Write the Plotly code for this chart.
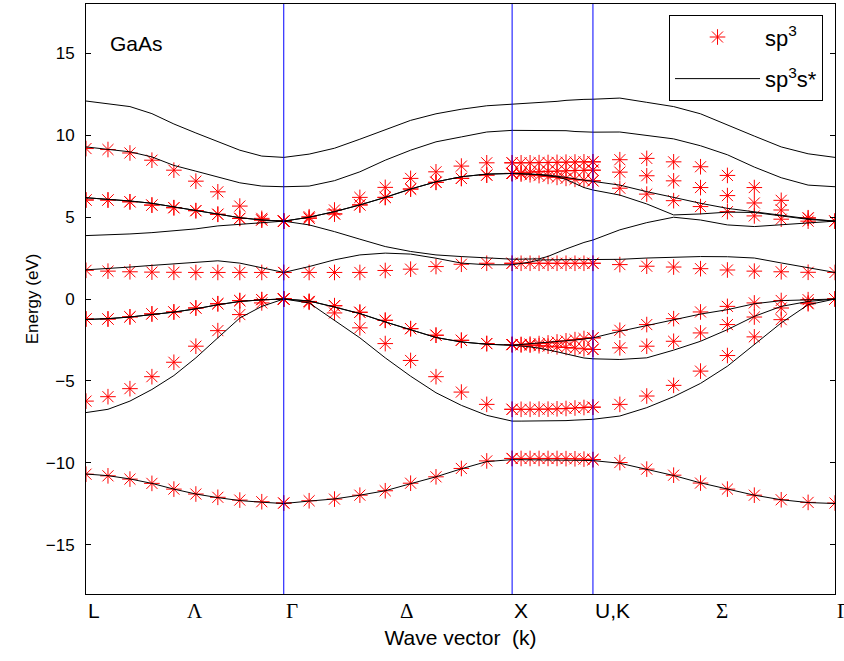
import numpy as np
import plotly.graph_objects as go

# ---------------- data ----------------
sym_k = [0.0, 0.866, 1.866, 2.220, 3.280]          # L, Γ, X, U/K, Γ  (2π/a)
pts_per_segment = 10

tick_labels = ["L", "Λ", "Γ", "Δ", "X", "U,K", "Σ", "Γ"]
greek = {"Λ", "Γ", "Δ", "Σ"}

# sp3 model (markers) – 8 bands, 10 points per segment: L-Γ, Γ-X, X-U, K-Γ
sp3_b1 = [-10.69, -10.79, -10.99, -11.25, -11.60, -11.90, -12.10, -12.27, -12.37, -12.45,
          -12.45, -12.31, -12.21, -11.97, -11.70, -11.24, -10.85, -10.34, -9.88, -9.73,
          -9.73, -9.73, -9.73, -9.73, -9.73, -9.73, -9.74, -9.75, -9.77, -9.80,
          -9.80, -9.98, -10.38, -10.75, -11.23, -11.60, -11.97, -12.25, -12.41, -12.45]
sp3_b2 = [-6.23, -5.96, -5.47, -4.74, -3.86, -2.88, -1.93, -0.95, -0.24, 0.00,
          0.00, -0.20, -0.85, -1.76, -2.72, -3.75, -4.74, -5.68, -6.43, -6.73,
          -6.73, -6.73, -6.73, -6.72, -6.72, -6.70, -6.68, -6.65, -6.62, -6.60,
          -6.60, -6.43, -5.92, -5.27, -4.40, -3.45, -2.31, -1.26, -0.29, 0.00]
sp3_b3 = [-1.22, -1.22, -1.09, -0.91, -0.79, -0.55, -0.29, -0.10, -0.04, 0.00,
          0.00, -0.15, -0.41, -0.81, -1.30, -1.81, -2.21, -2.52, -2.72, -2.78,
          -2.78, -2.80, -2.82, -2.85, -2.88, -2.92, -2.96, -3.00, -3.04, -3.08,
          -3.08, -2.98, -2.88, -2.58, -2.07, -1.56, -1.10, -0.55, -0.24, 0.00]
sp3_b4 = [-1.22, -1.22, -1.09, -0.91, -0.79, -0.55, -0.29, -0.10, -0.04, 0.00,
          0.00, -0.15, -0.41, -0.81, -1.30, -1.81, -2.21, -2.52, -2.72, -2.78,
          -2.78, -2.77, -2.75, -2.72, -2.68, -2.62, -2.55, -2.48, -2.41, -2.37,
          -2.37, -1.91, -1.56, -1.20, -0.79, -0.45, -0.24, -0.09, -0.04, 0.00]
sp3_b5 = [1.75, 1.70, 1.66, 1.64, 1.63, 1.62, 1.62, 1.62, 1.62, 1.62,
          1.62, 1.62, 1.62, 1.62, 1.74, 1.82, 1.98, 2.12, 2.18, 2.18,
          2.18, 2.18, 2.18, 2.18, 2.18, 2.18, 2.18, 2.18, 2.18, 2.18,
          2.18, 2.10, 2.00, 1.95, 1.85, 1.77, 1.70, 1.66, 1.63, 1.62]
sp3_b6 = [6.04, 6.04, 5.93, 5.73, 5.57, 5.39, 5.17, 4.92, 4.82, 4.75,
          4.75, 4.93, 5.19, 5.74, 6.20, 6.71, 7.12, 7.36, 7.56, 7.66,
          7.66, 7.62, 7.58, 7.53, 7.48, 7.42, 7.36, 7.30, 7.25, 7.21,
          7.21, 6.76, 6.40, 6.00, 5.64, 5.33, 5.07, 4.87, 4.75, 4.75]
sp3_b7 = [6.04, 6.04, 5.93, 5.73, 5.57, 5.39, 5.17, 4.92, 4.82, 4.75,
          4.75, 4.93, 5.19, 5.74, 6.20, 6.71, 7.12, 7.36, 7.56, 7.66,
          7.66, 7.70, 7.74, 7.77, 7.79, 7.80, 7.82, 7.84, 7.85, 7.86,
          7.86, 7.74, 7.52, 7.21, 6.80, 6.31, 5.86, 5.43, 4.93, 4.75]
sp3_b8 = [9.18, 9.12, 8.91, 8.47, 7.86, 7.19, 6.54, 5.67, 4.92, 4.75,
          4.75, 5.02, 5.43, 6.20, 6.81, 7.36, 7.76, 8.11, 8.31, 8.31,
          8.31, 8.31, 8.31, 8.32, 8.33, 8.34, 8.35, 8.36, 8.37, 8.37,
          8.37, 8.50, 8.58, 8.37, 8.07, 7.54, 6.80, 6.02, 4.96, 4.75]

# sp3s* model (lines) – 10 bands
sps_b1 = [-10.68, -10.78, -10.98, -11.25, -11.60, -11.90, -12.12, -12.30, -12.40, -12.48,
          -12.48, -12.33, -12.20, -11.97, -11.70, -11.27, -10.85, -10.36, -9.92, -9.80,
          -9.80, -9.80, -9.80, -9.81, -9.82, -9.82, -9.83, -9.84, -9.85, -9.86,
          -9.86, -10.02, -10.40, -10.77, -11.22, -11.60, -11.97, -12.25, -12.42, -12.48]
sps_b2 = [-6.93, -6.73, -6.23, -5.52, -4.67, -3.59, -2.37, -1.16, -0.45, 0.00,
          0.00, -0.24, -1.30, -2.37, -3.59, -4.71, -5.72, -6.49, -7.10, -7.45,
          -7.45, -7.45, -7.45, -7.45, -7.45, -7.44, -7.42, -7.39, -7.36, -7.34,
          -7.34, -7.14, -6.63, -5.96, -5.15, -4.10, -2.78, -1.46, -0.35, 0.00]
sps_b3 = [-1.25, -1.20, -1.10, -0.95, -0.80, -0.60, -0.35, -0.15, -0.05, 0.00,
          0.00, -0.12, -0.49, -0.89, -1.40, -1.87, -2.35, -2.62, -2.76, -2.82,
          -2.82, -2.86, -2.92, -3.00, -3.10, -3.22, -3.35, -3.48, -3.60, -3.65,
          -3.65, -3.69, -3.59, -3.12, -2.58, -1.87, -1.06, -0.45, -0.15, 0.00]
sps_b4 = [-1.25, -1.20, -1.10, -0.95, -0.80, -0.60, -0.35, -0.15, -0.05, 0.00,
          0.00, -0.12, -0.49, -0.89, -1.40, -1.87, -2.35, -2.62, -2.76, -2.82,
          -2.82, -2.78, -2.74, -2.70, -2.65, -2.60, -2.55, -2.50, -2.44, -2.37,
          -2.37, -1.97, -1.62, -1.26, -0.92, -0.65, -0.29, -0.10, -0.04, 0.00]
sps_b5 = [1.78, 1.85, 1.95, 2.05, 2.15, 2.24, 2.33, 2.19, 1.92, 1.62,
          1.62, 1.98, 2.39, 2.69, 2.80, 2.74, 2.49, 2.19, 2.09, 2.09,
          2.09, 2.15, 2.25, 2.38, 2.40, 2.40, 2.40, 2.40, 2.40, 2.40,
          2.40, 2.42, 2.50, 2.56, 2.59, 2.58, 2.50, 2.20, 1.90, 1.62]
sps_b6 = [3.87, 3.90, 3.97, 4.05, 4.17, 4.28, 4.46, 4.56, 4.64, 4.75,
          4.75, 4.52, 4.11, 3.65, 3.20, 2.90, 2.69, 2.59, 2.49, 2.43,
          2.43, 2.43, 2.43, 2.45, 2.60, 2.85, 3.05, 3.25, 3.45, 3.60,
          3.60, 4.22, 4.66, 4.99, 4.82, 4.52, 4.42, 4.52, 4.66, 4.75]
sps_b7 = [6.18, 6.10, 5.98, 5.84, 5.61, 5.39, 5.17, 4.96, 4.82, 4.75,
          4.75, 4.99, 5.33, 5.74, 6.20, 6.71, 7.15, 7.46, 7.62, 7.66,
          7.66, 7.65, 7.62, 7.58, 7.52, 7.45, 7.30, 7.05, 6.80, 6.65,
          6.65, 6.34, 5.80, 5.13, 5.19, 5.30, 5.28, 5.05, 4.86, 4.75]
sps_b8 = [6.18, 6.10, 5.98, 5.84, 5.61, 5.39, 5.17, 4.96, 4.82, 4.75,
          4.75, 4.99, 5.33, 5.74, 6.20, 6.71, 7.15, 7.46, 7.62, 7.66,
          7.66, 7.65, 7.63, 7.60, 7.56, 7.50, 7.42, 7.33, 7.24, 7.18,
          7.18, 6.95, 6.55, 6.20, 5.84, 5.53, 5.33, 5.10, 4.90, 4.75]
sps_b9 = [9.28, 9.14, 8.98, 8.67, 8.15, 7.80, 7.46, 7.09, 6.89, 6.85,
          6.85, 6.89, 7.22, 7.76, 8.47, 9.08, 9.59, 9.89, 10.19, 10.29,
          10.29, 10.29, 10.29, 10.29, 10.29, 10.29, 10.27, 10.22, 10.18, 10.18,
          10.18, 10.19, 10.00, 9.77, 9.35, 8.80, 8.05, 7.40, 6.95, 6.85]
sps_b10 = [12.08, 11.92, 11.74, 11.31, 10.68, 10.13, 9.59, 9.08, 8.72, 8.64,
           8.64, 8.84, 9.20, 9.75, 10.33, 10.90, 11.30, 11.58, 11.79, 11.88,
           11.88, 11.90, 11.92, 11.96, 12.02, 12.06, 12.12, 12.17, 12.18, 12.19,
           12.19, 12.26, 12.00, 11.74, 11.30, 10.60, 9.94, 9.28, 8.86, 8.64]

sp3_bands = [sp3_b1, sp3_b2, sp3_b3, sp3_b4, sp3_b5, sp3_b6, sp3_b7, sp3_b8]
sps_bands = [sps_b1, sps_b2, sps_b3, sps_b4, sps_b5, sps_b6, sps_b7, sps_b8, sps_b9, sps_b10]

# ---------------- build ----------------
k = np.concatenate([np.linspace(sym_k[i], sym_k[i + 1], pts_per_segment)
                    for i in range(len(sym_k) - 1)])

mx, my = [], []
for b in sp3_bands:
    mx += list(k)
    my += list(b)

lx, ly = [], []
for b in sps_bands:
    lx += list(k) + [None]
    ly += list(b) + [None]

# label positions: symmetry points and segment midpoints (text starts there)
tick_vals = [sym_k[0], (sym_k[0] + sym_k[1]) / 2, sym_k[1], (sym_k[1] + sym_k[2]) / 2,
             sym_k[2], sym_k[3], (sym_k[3] + sym_k[4]) / 2, sym_k[4]]

fig = go.Figure()
fig.add_trace(go.Scatter(
    x=mx, y=my, mode="markers", name="sp<sup>3</sup>", legendgroup="a",
    marker=dict(symbol="asterisk-open", size=13, color="#ff0000",
                line=dict(color="#ff0000", width=1)),
))
fig.add_trace(go.Scatter(
    x=lx, y=ly, mode="lines", name="sp<sup>3</sup>s*", legendgroup="b",
    line=dict(color="black", width=1), connectgaps=False,
))

for kv in sym_k[1:4]:
    fig.add_shape(type="line", x0=kv, x1=kv, xref="x", y0=0, y1=1, yref="paper",
                  line=dict(color="#0000ff", width=1), layer="above")

for tv, tl in zip(tick_vals, tick_labels):
    fam = "Liberation Serif, Times New Roman, serif" if tl in greek else \
          "Liberation Sans, Arial, sans-serif"
    fig.add_annotation(text=tl, x=tv, xref="x", y=0, yref="paper",
                       xanchor="left", yanchor="top", yshift=-3, showarrow=False,
                       font=dict(size=21, family=fam, color="black"))

fig.add_annotation(text="GaAs", x=0.030, y=0.933, xref="paper", yref="paper",
                   xanchor="left", yanchor="middle", showarrow=False,
                   font=dict(size=21, color="black"))

fig.update_layout(
    width=844, height=661,
    margin=dict(l=86, r=9, t=4, b=67, autoexpand=False),
    paper_bgcolor="white", plot_bgcolor="white",
    font=dict(family="Liberation Sans, Arial, sans-serif", color="black", size=17),
    showlegend=True,
    legend=dict(x=0.984, y=0.981, xanchor="right", yanchor="top",
                bgcolor="white", bordercolor="black", borderwidth=1,
                font=dict(size=22), itemwidth=85, tracegroupgap=10,
                traceorder="grouped"),
    xaxis=dict(range=[sym_k[0], sym_k[-1]], showgrid=False, zeroline=False,
               showline=True, linecolor="black", linewidth=1, mirror=True,
               ticks="", showticklabels=False,
               title=dict(text="Wave vector\u00a0 (k)", font=dict(size=21), standoff=36)),
    yaxis=dict(range=[-18, 18], showgrid=False, zeroline=False,
               showline=True, linecolor="black", linewidth=1, mirror="ticks",
               ticks="inside", ticklen=5, tickcolor="black",
               tickvals=[-15, -10, -5, 0, 5, 10, 15], tickfont=dict(size=17),
               ticklabelstandoff=7,
               title=dict(text="Energy (eV)", font=dict(size=17), standoff=2)),
)

fig.write_html("out.html",
               config={"displayModeBar": False},
               post_script="document.body.style.margin='0px';"
                           "document.body.style.overflow='hidden';")
